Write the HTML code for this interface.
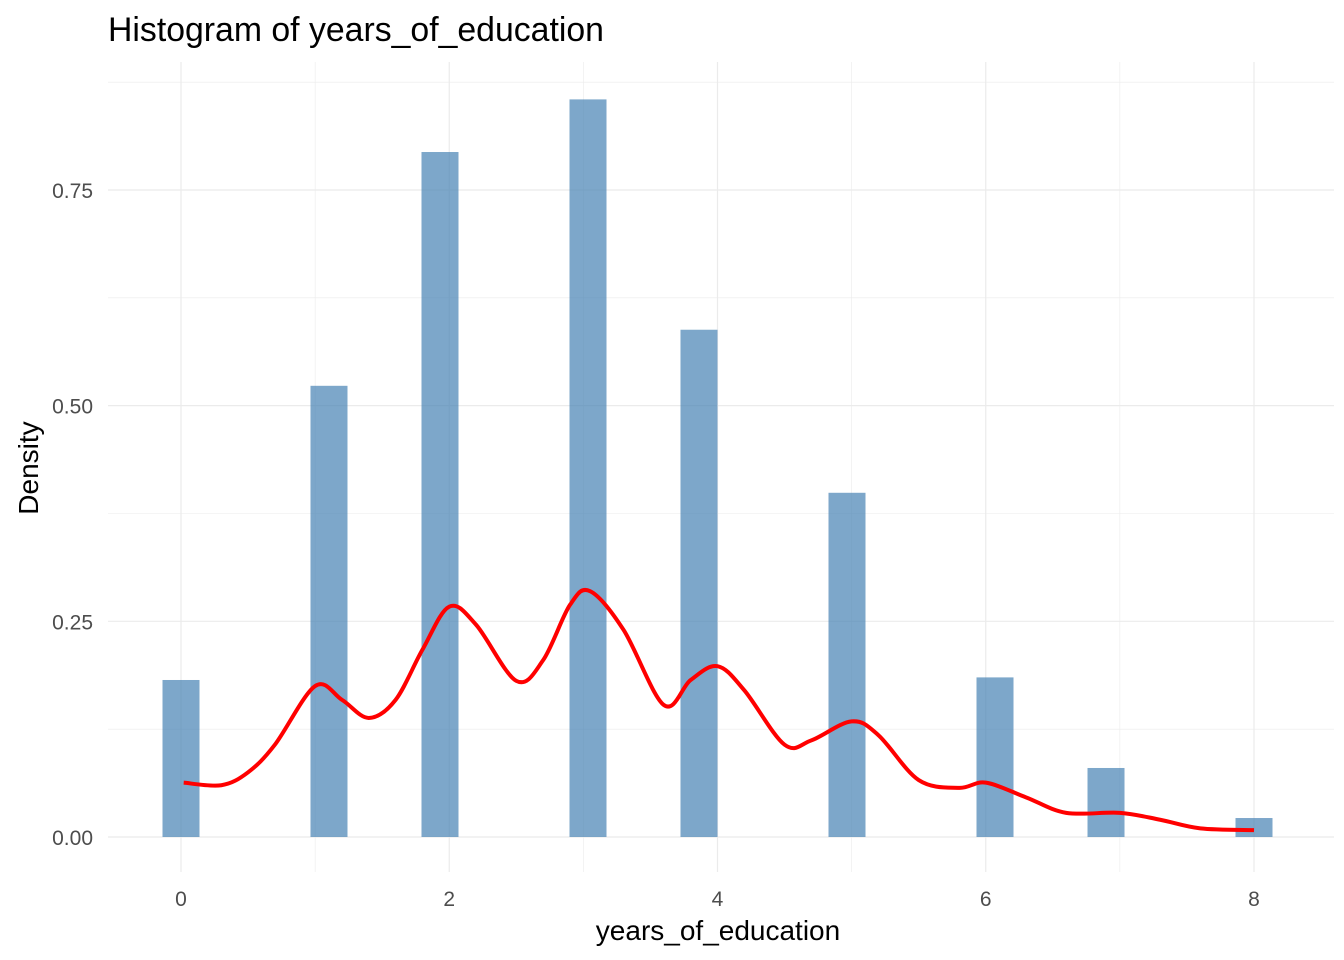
<!DOCTYPE html>
<html><head><meta charset="utf-8"><style>
body{margin:0;background:#fff;}
svg{display:block;font-family:"Liberation Sans",Arial,sans-serif;}
</style></head><body>
<svg id="chart" width="1344" height="960">
<text x="108" y="41" font-size="33.8" fill="#000">Histogram of years_of_education</text>
<g id="grid"></g>
<g id="bars"></g>
<path id="density" fill="none" stroke="#ff0000" stroke-width="4" stroke-linejoin="round"></path>
<g id="ticks"></g>
<text x="718" y="940" font-size="28" text-anchor="middle" fill="#000">years_of_education</text>
<text transform="translate(38,468) rotate(-90)" font-size="28" text-anchor="middle" fill="#000">Density</text>
</svg>
<script>
const binCenters=[0,1.1034,1.931,3.0345,3.862,4.9655,6.069,6.8966,8];
const densities=[0.182,0.523,0.794,0.855,0.588,0.399,0.185,0.080,0.022];
const kdeX=[0.02,0.3,0.5,0.7,1.0,1.2,1.4,1.6,1.8,2.0,2.2,2.5,2.7,2.9,3.05,3.3,3.6,3.8,4.0,4.2,4.5,4.7,5.0,5.2,5.5,5.8,6.0,6.3,6.6,7.0,7.3,7.6,8.0];
const kdeY=[0.063,0.060,0.075,0.107,0.175,0.159,0.138,0.159,0.217,0.267,0.246,0.181,0.205,0.269,0.285,0.240,0.153,0.182,0.198,0.170,0.107,0.112,0.134,0.118,0.066,0.057,0.063,0.046,0.028,0.028,0.020,0.010,0.008];
const xTicks=[0,2,4,6,8];
const xMinor=[1,3,5,7];
const yTicks=[0,0.25,0.5,0.75];
const yTickLabels=["0.00","0.25","0.50","0.75"];
const yMinor=[0.125,0.375,0.625,0.875];
const binWidth=8/29;
const X=v=>181+v*134.125;
const Y=v=>837-v*862.7;
const NS="http://www.w3.org/2000/svg";
const grid=document.getElementById('grid'),bars=document.getElementById('bars'),ticks=document.getElementById('ticks');
function line(x1,y1,x2,y2,w){const l=document.createElementNS(NS,'line');l.setAttribute('x1',x1);l.setAttribute('y1',y1);l.setAttribute('x2',x2);l.setAttribute('y2',y2);l.setAttribute('stroke','#ebebeb');l.setAttribute('stroke-width',w);


grid.appendChild(l);}
yMinor.forEach(v=>line(108,Y(v),1334,Y(v),0.6));
xMinor.forEach(v=>line(X(v),62,X(v),872,0.6));
yTicks.forEach(v=>line(108,Y(v),1334,Y(v),1.2));
xTicks.forEach(v=>line(X(v),62,X(v),872,1.2));
binCenters.forEach((c,i)=>{const r=document.createElementNS(NS,'rect');
r.setAttribute('x',X(c-binWidth/2));r.setAttribute('width',binWidth*134.125);
r.setAttribute('y',Y(densities[i]));r.setAttribute('height',Y(0)-Y(densities[i]));
r.setAttribute('fill','#4682b4');r.setAttribute('fill-opacity','0.7');


bars.appendChild(r);});
const P=kdeX.map((x,i)=>[X(x),Y(kdeY[i])]);
let d='M'+P[0][0]+','+P[0][1];
for(let i=0;i<P.length-1;i++){const p0=P[Math.max(0,i-1)],p1=P[i],p2=P[i+1],p3=P[Math.min(P.length-1,i+2)];
d+=' C'+(p1[0]+(p2[0]-p0[0])/6)+','+(p1[1]+(p2[1]-p0[1])/6)+' '+(p2[0]-(p3[0]-p1[0])/6)+','+(p2[1]-(p3[1]-p1[1])/6)+' '+p2[0]+','+p2[1];}
document.getElementById('density').setAttribute('d',d);
function txt(x,y,s,anchor,name){const t=document.createElementNS(NS,'text');t.setAttribute('x',x);t.setAttribute('y',y);t.setAttribute('font-size','21');t.setAttribute('fill','#4d4d4d');t.setAttribute('text-anchor',anchor);t.textContent=s;


ticks.appendChild(t);}
xTicks.forEach(v=>txt(X(v),906,String(v),'middle','x-tick-label'));
yTicks.forEach((v,i)=>txt(93,Y(v)+8,yTickLabels[i],'end','y-tick-label'));
</script>
</body></html>
